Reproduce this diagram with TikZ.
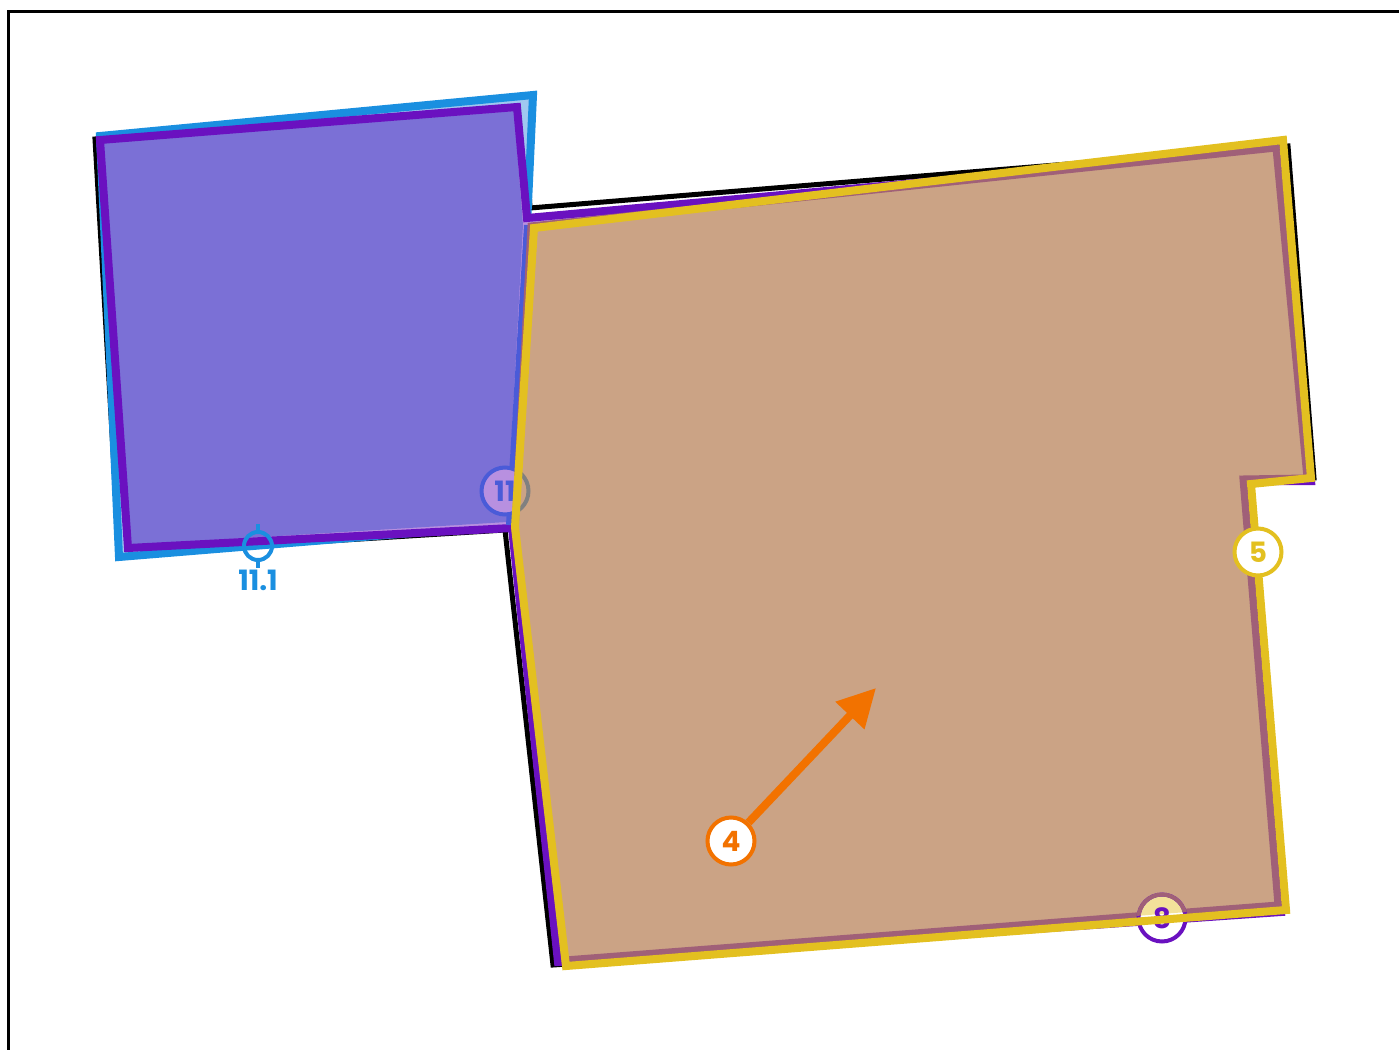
\documentclass[tikz,border=0pt]{standalone}
\usepackage{fontspec}
\setmainfont{Poppins}
\usetikzlibrary{arrows.meta,positioning}

\definecolor{blueline}{HTML}{1A8FE0}
\definecolor{bluefill}{HTML}{A0C8F0}
\definecolor{purpleline}{HTML}{6A11C0}
\definecolor{purplefill}{HTML}{B890E0}
\definecolor{squarefill}{HTML}{7B70D6}
\definecolor{badgeblue}{HTML}{4A5BD8}
\definecolor{brownfill}{HTML}{CBA385}
\definecolor{mauveline}{HTML}{A06078}
\definecolor{yellowline}{HTML}{E3C020}
\definecolor{paleyellow}{HTML}{F3E29A}
\definecolor{orangeline}{HTML}{F27200}

\begin{document}
\begin{tikzpicture}[x=0.5pt, y=-0.5pt,
    every node/.style={font=\bfseries\fontsize{14}{14}\selectfont},
    badge/.style={circle, minimum size=23.5pt, inner sep=0pt, line width=2pt},
    target/.style={circle, minimum size=14pt, inner sep=0pt, line width=2pt, draw=blueline},
    tag/.style={inner sep=1pt, text=blueline}]
    \useasboundingbox (0,0) rectangle (1399,1050);

    % Frame
    \draw[line width=1.5pt] (8,1050) -- (8,11) -- (1399,11);

    % Outline of both parts
    \draw[line width=2.5pt] (95,139) -- (524,102) -- (530,208) -- (1288,146) -- (1314,478)
        -- (1248,482) -- (1282,912) -- (553,965) -- (505,530) -- (119,554) -- cycle;

    % Left square
    \draw[line width=4pt, draw=blueline, fill=bluefill] (100,136) -- (533,95) -- (527,225)
        -- (509,525) -- (119,557) -- cycle;
    \fill[purplefill] (100,140) -- (517,107) -- (527,218) -- (1280,150) -- (1311,481)
        -- (1246,481) -- (1281,912) -- (558,962) -- (512,528) -- (128,548) -- cycle;
    \fill[squarefill] (103,143) -- (514,111) -- (523,225) -- (507,522) -- (131,545) -- cycle;
    \draw[line width=4pt, draw=purpleline] (100,140) -- (517,107) -- (527,218) -- (1280,150)
        -- (1311,481) -- (1246,481) -- (1281,912) -- (558,962) -- (512,528) -- (128,548) -- cycle;
    \draw[line width=3pt, draw=badgeblue] (527,225) -- (509,525);
    \node[badge, draw=badgeblue, fill=purplefill, text=badgeblue] (b11) at (505,491) {11};

    % Right part
    \draw[line width=3.5pt, draw=mauveline, fill=brownfill] (531,226) -- (1276,148) -- (1307,478)
        -- (1243,479) -- (1278,905) -- (565,960) -- (515,530) -- cycle;
    \begin{scope}
        \clip (531,226) -- (1276,148) -- (1307,478) -- (1243,479) -- (1278,905) -- (565,960) -- (515,530) -- cycle;
        \draw[line width=2pt, draw=gray] (b11) circle[radius=23.5];
    \end{scope}

    % Badge on the bottom edge
    \coordinate (p8) at (1162,918);
    \fill[white] (p8) circle[radius=23.5];
    \begin{scope}
        \clip (531,226) -- (1276,148) -- (1307,478) -- (1243,479) -- (1278,905) -- (565,960) -- (515,530) -- cycle;
        \fill[paleyellow] (p8) circle[radius=23.5];
    \end{scope}
    \node[badge, draw=purpleline, text=purpleline] (b8) at (p8) {8};
    \begin{scope}
        \clip (531,226) -- (1276,148) -- (1307,478) -- (1243,479) -- (1278,905) -- (565,960) -- (515,530) -- cycle;
        \draw[line width=2pt, draw=mauveline] (p8) circle[radius=23.5];
    \end{scope}

    \draw[line width=4pt, draw=yellowline] (534,228) -- (1283,140) -- (1311,478) -- (1251,484)
        -- (1286,910) -- (566,966) -- (515,527) -- cycle;

    % Badges and arrow
    \node[badge, draw=yellowline, fill=white, text=yellowline] (b5) at (1258,552) {5};
    \coordinate (tip4) at (876,688);
    \node[badge, draw=orangeline, fill=white, text=orangeline] (b4) at (731,841) {4};
    \draw[line width=4pt, draw=orangeline, -{Triangle[length=19pt, width=19pt]}] (b4) -- (tip4);

    % Target mark
    \node[target] (t11) at (258,546) {};
    \draw[line width=2pt, draw=blueline] (t11.north) -- ++(0,-6);
    \draw[line width=2pt, draw=blueline] (t11.south) -- ++(0,6);
    \node[tag, below=3pt of t11] (l11) {11.1};
\end{tikzpicture}
\end{document}
